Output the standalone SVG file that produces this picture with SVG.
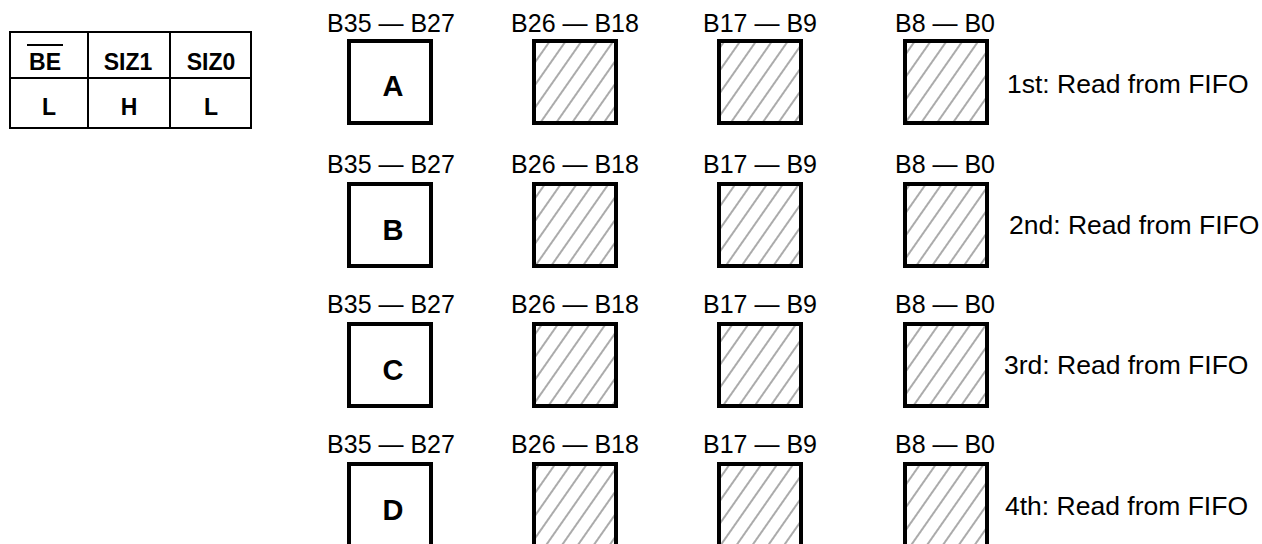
<svg xmlns="http://www.w3.org/2000/svg" width="1262" height="544" viewBox="0 0 1262 544">
<style>
.lbl{font-family:"Liberation Sans",Arial,sans-serif;font-size:25px;fill:#000;text-anchor:middle}
.note{font-family:"Liberation Sans",Arial,sans-serif;font-size:26.5px;fill:#000}
.big{font-family:"Liberation Sans",Arial,sans-serif;font-size:29px;font-weight:bold;fill:#000;text-anchor:middle}
.th{font-family:"Liberation Sans",Arial,sans-serif;font-size:23px;font-weight:bold;fill:#000;text-anchor:middle}
.box{fill:#fff;stroke:#000;stroke-width:4}
.hbox{fill:url(#hatch);stroke:#000;stroke-width:4}
.tl{stroke:#000;stroke-width:2;fill:none}
</style>
<defs>
<pattern id="hatch" patternUnits="userSpaceOnUse" width="13" height="13" patternTransform="rotate(35)">
<rect width="13" height="13" fill="#fff"/>
<line x1="6" y1="0" x2="6" y2="13" stroke="#666" stroke-width="1.1"/>
</pattern>
</defs>
<rect width="1262" height="544" fill="#fff"/>
<g id="table">
<rect class="tl" x="10" y="32" width="241" height="96"/>
<line class="tl" x1="10" y1="78" x2="251" y2="78"/>
<line class="tl" x1="88" y1="32" x2="88" y2="128"/>
<line class="tl" x1="170" y1="32" x2="170" y2="128"/>
<text class="th" x="45" y="70">BE</text>
<line x1="27" y1="45" x2="63" y2="45" stroke="#000" stroke-width="2"/>
<text class="th" x="128" y="70">SIZ1</text>
<text class="th" x="211" y="70">SIZ0</text>
<text class="th" x="49" y="115">L</text>
<text class="th" x="129" y="115">H</text>
<text class="th" x="211" y="115">L</text>
</g>
<g id="row1">
<text class="lbl" x="391" y="32">B35 — B27</text>
<text class="lbl" x="575" y="32">B26 — B18</text>
<text class="lbl" x="760" y="32">B17 — B9</text>
<text class="lbl" x="945" y="32">B8 — B0</text>
<rect class="box" x="349" y="41" width="82" height="82"/>
<text class="big" x="393" y="96">A</text>
<rect class="hbox" x="534" y="41" width="82" height="82"/>
<rect class="hbox" x="719" y="41" width="82" height="82"/>
<rect class="hbox" x="905" y="41" width="82" height="82"/>
<text class="note" x="1007" y="93">1st: Read from FIFO</text>
</g>
<g id="row2">
<text class="lbl" x="391" y="173">B35 — B27</text>
<text class="lbl" x="575" y="173">B26 — B18</text>
<text class="lbl" x="760" y="173">B17 — B9</text>
<text class="lbl" x="945" y="173">B8 — B0</text>
<rect class="box" x="349" y="184" width="82" height="82"/>
<text class="big" x="393" y="240">B</text>
<rect class="hbox" x="534" y="184" width="82" height="82"/>
<rect class="hbox" x="719" y="184" width="82" height="82"/>
<rect class="hbox" x="905" y="184" width="82" height="82"/>
<text class="note" x="1009" y="234">2nd: Read from FIFO</text>
</g>
<g id="row3">
<text class="lbl" x="391" y="313">B35 — B27</text>
<text class="lbl" x="575" y="313">B26 — B18</text>
<text class="lbl" x="760" y="313">B17 — B9</text>
<text class="lbl" x="945" y="313">B8 — B0</text>
<rect class="box" x="349" y="324" width="82" height="82"/>
<text class="big" x="393" y="380">C</text>
<rect class="hbox" x="534" y="324" width="82" height="82"/>
<rect class="hbox" x="719" y="324" width="82" height="82"/>
<rect class="hbox" x="905" y="324" width="82" height="82"/>
<text class="note" x="1004" y="374">3rd: Read from FIFO</text>
</g>
<g id="row4">
<text class="lbl" x="391" y="453">B35 — B27</text>
<text class="lbl" x="575" y="453">B26 — B18</text>
<text class="lbl" x="760" y="453">B17 — B9</text>
<text class="lbl" x="945" y="453">B8 — B0</text>
<rect class="box" x="349" y="464" width="82" height="82"/>
<text class="big" x="393" y="520">D</text>
<rect class="hbox" x="534" y="464" width="82" height="82"/>
<rect class="hbox" x="719" y="464" width="82" height="82"/>
<rect class="hbox" x="905" y="464" width="82" height="82"/>
<text class="note" x="1005" y="515">4th: Read from FIFO</text>
</g>
<g id="connectors"></g>
</svg>
